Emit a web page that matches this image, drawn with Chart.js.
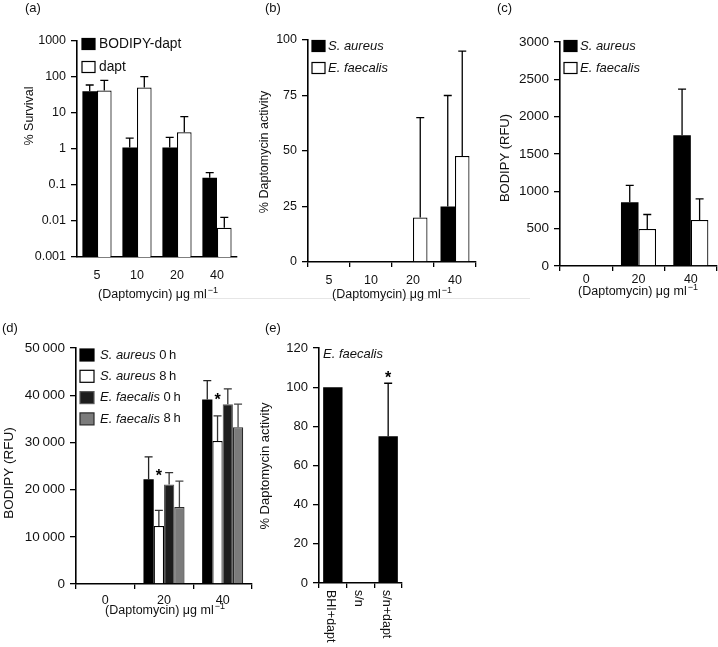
<!DOCTYPE html>
<html>
<head>
<meta charset="utf-8">
<script src="https://cdn.jsdelivr.net/npm/chart.js@4"></script>
<style>
  body { margin: 0; background: #fff; }
  #wrap { position: relative; width: 718px; height: 647px; overflow: hidden; }
  #wrap canvas { position: absolute; left: 0; top: 0; }
  .scan { position: absolute; left: 190px; top: 298px; width: 340px; height: 1px; background: #e6e6e6; }
</style>
</head>
<body>
<div id="wrap">
  <div class="scan"></div>
  <canvas id="chartA" width="718" height="647"></canvas>
  <canvas id="chartB" width="718" height="647"></canvas>
  <canvas id="chartC" width="718" height="647"></canvas>
  <canvas id="chartD" width="718" height="647"></canvas>
  <canvas id="chartE" width="718" height="647"></canvas>
</div>
<script>
const FONT = '"Liberation Sans", Arial, Helvetica, sans-serif';
const W = 718, H = 647;

// (a) % survival, log axis
const dosesA = ['5', '10', '20', '40'];
const survBodipy = [40, 1.1, 1.1, 0.16];
const survBodipyErr = [60, 2.0, 2.1, 0.22];
const survDapt = [42, 51, 2.9, 0.0065];
const survDaptErr = [81, 102, 7.9, 0.0126];
const ticksA = [0.001, 0.01, 0.1, 1, 10, 100, 1000];

// (b) % daptomycin activity
const dosesB = ['5', '10', '20', '40'];
const actAureus = [0, 0, 0, 25];
const actAureusErr = [null, null, null, 75];
const actFaecalis = [0, 0, 20, 47.7];
const actFaecalisErr = [null, null, 65, 95];

// (c) BODIPY RFU
const dosesC = ['0', '20', '40'];
const rfuAureus = [0, 855, 1750];
const rfuAureusErr = [null, 1080, 2370];
const rfuFaecalis = [0, 495, 615];
const rfuFaecalisErr = [null, 690, 900];

// (d) BODIPY RFU, 0 h vs 8 h
const dosesD = ['0', '20', '40'];
const rfuAureus0h = [0, 22200, 39100];
const rfuAureus0hErr = [null, 26950, 43100];
const rfuAureus8h = [0, 12300, 30300];
const rfuAureus8hErr = [null, 15600, 35600];
const rfuFaecalis0h = [0, 21100, 38100];
const rfuFaecalis0hErr = [null, 23600, 41350];
const rfuFaecalis8h = [0, 16300, 33200];
const rfuFaecalis8hErr = [null, 21800, 38100];
const starsD = [{ dataset: 1, index: 1, value: 23700 }, { dataset: 1, index: 2, value: 39800 }];

// (e) supernatant activity
const mediaE = ['BHI+dapt', 's/n', 's/n+dapt'];
const actE = [100, 0, 75];
const actEErr = [null, null, 102];
const starsE = [{ dataset: 0, index: 2, value: 106.5 }];

function drawXTitle(ctx, cx, cy) {
  const main = '(Daptomycin) \u03bcg ml';
  const sup = '\u22121';
  ctx.font = `12.5px ${FONT}`;
  const w1 = ctx.measureText(main).width;
  ctx.font = `9px ${FONT}`;
  const w2 = ctx.measureText(sup).width;
  const x0 = cx - (w1 + w2 + 1) / 2;
  ctx.textAlign = 'left';
  ctx.textBaseline = 'middle';
  ctx.font = `12.5px ${FONT}`;
  ctx.fillText(main, x0, cy);
  ctx.font = `9px ${FONT}`;
  ctx.fillText(sup, x0 + w1 + 1, cy - 4);
}

function drawLabelParts(ctx, label, x, y, size, allItalic) {
  // species names are in italics
  const m = label.match(/^([A-Z]\. [a-z]+)(.*)$/);
  const parts = m ? [[m[1], true], [m[2], false]] : [[label, false]];
  parts.forEach(([txt, it]) => {
    ctx.font = `${it || allItalic ? 'italic ' : ''}${size}px ${FONT}`;
    ctx.fillText(txt, x, y);
    x += ctx.measureText(txt).width;
  });
}

const extras = {
  id: 'extras',
  afterDatasetsDraw(chart, args, o) {
    const ctx = chart.ctx;
    const y = chart.scales.y;
    ctx.save();
    chart.data.datasets.forEach((ds, di) => {
      if (!ds.err) return;
      const meta = chart.getDatasetMeta(di);
      ds.err.forEach((e, i) => {
        if (e == null) return;
        const bar = meta.data[i];
        const ye = y.getPixelForValue(e);
        ctx.strokeStyle = ds.errColor || '#000';
        ctx.lineWidth = 1.3;
        ctx.beginPath();
        ctx.moveTo(bar.x, bar.y);
        ctx.lineTo(bar.x, ye);
        ctx.moveTo(bar.x - 4, ye);
        ctx.lineTo(bar.x + 4, ye);
        ctx.stroke();
      });
    });
    (o.stars || []).forEach(s => {
      const bar = chart.getDatasetMeta(s.dataset).data[s.index];
      ctx.fillStyle = '#000';
      ctx.font = `bold 16px ${FONT}`;
      ctx.textAlign = 'center';
      ctx.textBaseline = 'middle';
      ctx.fillText('*', bar.x, y.getPixelForValue(s.value) + 4);
    });
    ctx.restore();
  },
  afterDraw(chart, args, o) {
    const ctx = chart.ctx;
    ctx.save();
    ctx.fillStyle = '#111';
    // panel letter
    ctx.font = `13px ${FONT}`;
    ctx.textAlign = 'left';
    ctx.textBaseline = 'middle';
    ctx.fillText(o.panel.text, o.panel.x, o.panel.y);
    // y title
    ctx.save();
    ctx.translate(o.yTitle.x, o.yTitle.y);
    ctx.rotate(-Math.PI / 2);
    ctx.textAlign = 'center';
    ctx.font = `${o.yTitle.size || 12.5}px ${FONT}`;
    ctx.fillText(o.yTitle.text, 0, 0);
    ctx.restore();
    // x title
    if (o.xTitle) drawXTitle(ctx, o.xTitle.x, o.xTitle.y);
    // rotated category labels (e)
    if (o.rotLabels) {
      const xs = chart.scales.x;
      ctx.font = `12.5px ${FONT}`;
      chart.data.labels.forEach((lab, i) => {
        ctx.save();
        ctx.translate(xs.getPixelForValue(i) - 2, o.rotLabels.y);
        ctx.rotate(Math.PI / 2);
        ctx.textAlign = 'left';
        ctx.textBaseline = 'middle';
        ctx.fillText(lab, 0, 0);
        ctx.restore();
      });
    }
    // legend
    if (o.legend) {
      const lg = o.legend;
      chart.data.datasets.forEach((ds, i) => {
        const cy = lg.y + i * lg.rowH;
        ctx.fillStyle = ds.backgroundColor;
        ctx.fillRect(lg.x, cy - lg.boxH / 2, lg.boxW, lg.boxH);
        ctx.strokeStyle = ds.legendBorder || '#000';
        ctx.lineWidth = 1.2;
        ctx.strokeRect(lg.x, cy - lg.boxH / 2, lg.boxW, lg.boxH);
        ctx.fillStyle = '#111';
        ctx.textAlign = 'left';
        ctx.textBaseline = 'middle';
        drawLabelParts(ctx, ds.label, lg.x + lg.boxW + lg.gap, cy, lg.size, false);
      });
    }
    (o.notes || []).forEach(n => {
      ctx.fillStyle = '#111';
      ctx.textAlign = 'left';
      ctx.textBaseline = 'middle';
      drawLabelParts(ctx, n.text, n.x, n.y, n.size, true);
    });
    ctx.restore();
  }
};

function thousands(v) {
  return v >= 10000 ? Math.floor(v / 1000) + '\u2009' + '000' : String(v);
}

function buildOptions(p) {
  return {
    responsive: false,
    animation: false,
    devicePixelRatio: 1,
    layout: {
      padding: { left: p.area.left - 60, top: p.area.top, right: W - p.area.right, bottom: H - p.area.bottom - 30 }
    },
    datasets: { bar: { barPercentage: 1, categoryPercentage: p.catPct } },
    plugins: { legend: { display: false }, tooltip: { enabled: false }, extras: p.extras },
    scales: {
      x: {
        grid: { display: true, drawOnChartArea: false, drawTicks: p.xTicks, tickLength: 5, color: '#000', lineWidth: 1.3, offset: true },
        border: { color: '#000', width: 1.6 },
        ticks: { display: !p.extras.rotLabels, color: '#111', font: { family: FONT, size: 12.5 }, padding: p.xPad, maxRotation: 0, autoSkip: false },
        afterFit: s => { s.height = 30; }
      },
      y: {
        type: p.log ? 'logarithmic' : 'linear',
        min: p.min,
        max: p.max,
        grid: { drawOnChartArea: false, tickLength: 6, color: '#000', lineWidth: 1.3 },
        border: { color: '#000', width: 1.6 },
        ticks: { stepSize: p.step, color: '#111', font: { family: FONT, size: p.tickSize || 12.5 }, padding: 5, callback: p.fmt || (v => String(v)) },
        afterBuildTicks: p.tickList ? (s => { s.ticks = p.tickList.map(v => ({ value: v })); }) : undefined,
        afterFit: s => { s.width = 60; }
      }
    }
  };
}

const black = { backgroundColor: '#000', borderColor: '#000', borderWidth: 0 };
const white = { backgroundColor: '#fff', borderColor: '#000', borderWidth: 1.2 };

new Chart(document.getElementById('chartA'), {
  type: 'bar',
  data: {
    labels: dosesA,
    datasets: [
      { label: 'BODIPY-dapt', data: survBodipy, err: survBodipyErr, ...black },
      { label: 'dapt', data: survDapt, err: survDaptErr, ...white }
    ]
  },
  options: buildOptions({
    area: { left: 77, top: 41, right: 237, bottom: 257 },
    log: true, min: 0.001, max: 1000, tickList: ticksA,
    catPct: 0.73, xTicks: false, xPad: 11,
    extras: {
      panel: { text: '(a)', x: 25, y: 8 },
      yTitle: { text: '% Survival', x: 30, y: 116 },
      xTitle: { x: 158, y: 295 },
      legend: { x: 82, y: 44, rowH: 23, boxW: 13, boxH: 11, gap: 4, size: 13.8 }
    }
  }),
  plugins: [extras]
});

new Chart(document.getElementById('chartB'), {
  type: 'bar',
  data: {
    labels: dosesB,
    datasets: [
      { label: 'S. aureus', data: actAureus, err: actAureusErr, ...black },
      { label: 'E. faecalis', data: actFaecalis, err: actFaecalisErr, ...white }
    ]
  },
  options: buildOptions({
    area: { left: 308, top: 40, right: 476, bottom: 262 },
    min: 0, max: 100, step: 25,
    catPct: 0.69, xTicks: true, xPad: 6,
    extras: {
      panel: { text: '(b)', x: 265, y: 8 },
      yTitle: { text: '% Daptomycin activity', x: 265, y: 152 },
      xTitle: { x: 392, y: 295 },
      legend: { x: 312, y: 46, rowH: 22, boxW: 13, boxH: 11, gap: 3, size: 13 }
    }
  }),
  plugins: [extras]
});

new Chart(document.getElementById('chartC'), {
  type: 'bar',
  data: {
    labels: dosesC,
    datasets: [
      { label: 'S. aureus', data: rfuAureus, err: rfuAureusErr, ...black },
      { label: 'E. faecalis', data: rfuFaecalis, err: rfuFaecalisErr, ...white }
    ]
  },
  options: buildOptions({
    area: { left: 560, top: 42, right: 717, bottom: 266 },
    min: 0, max: 3000, step: 500, tickSize: 13.5,
    catPct: 0.67, xTicks: true, xPad: 1,
    extras: {
      panel: { text: '(c)', x: 497, y: 8 },
      yTitle: { text: 'BODIPY (RFU)', x: 505, y: 158, size: 13 },
      xTitle: { x: 638, y: 292 },
      legend: { x: 564, y: 46, rowH: 22, boxW: 13, boxH: 11, gap: 3, size: 13 }
    }
  }),
  plugins: [extras]
});

new Chart(document.getElementById('chartD'), {
  type: 'bar',
  data: {
    labels: dosesD,
    datasets: [
      { label: 'S. aureus 0\u2009h', data: rfuAureus0h, err: rfuAureus0hErr, errColor: '#222', ...black },
      { label: 'S. aureus 8\u2009h', data: rfuAureus8h, err: rfuAureus8hErr, errColor: '#333', ...white },
      { label: 'E. faecalis 0\u2009h', data: rfuFaecalis0h, err: rfuFaecalis0hErr, errColor: '#333', backgroundColor: '#1d1d1d', borderColor: '#5a5a5a', legendBorder: '#5a5a5a', borderWidth: 1.2 },
      { label: 'E. faecalis 8\u2009h', data: rfuFaecalis8h, err: rfuFaecalis8hErr, errColor: '#444', backgroundColor: '#7b7b7b', borderColor: '#2a2a2a', legendBorder: '#2a2a2a', borderWidth: 1.2 }
    ]
  },
  options: buildOptions({
    area: { left: 76, top: 348, right: 252, bottom: 584 },
    min: 0, max: 50000, step: 10000, fmt: thousands, tickSize: 13.5,
    catPct: 0.70, xTicks: true, xPad: 4,
    extras: {
      panel: { text: '(d)', x: 2, y: 328 },
      yTitle: { text: 'BODIPY (RFU)', x: 9, y: 473, size: 13.5 },
      xTitle: { x: 165, y: 611 },
      legend: { x: 80, y: 355, rowH: 21.3, boxW: 14, boxH: 12, gap: 6, size: 13 },
      stars: starsD
    }
  }),
  plugins: [extras]
});

new Chart(document.getElementById('chartE'), {
  type: 'bar',
  data: {
    labels: mediaE,
    datasets: [
      { label: 'E. faecalis', data: actE, err: actEErr, ...black }
    ]
  },
  options: buildOptions({
    area: { left: 319, top: 348, right: 402, bottom: 583 },
    min: 0, max: 120, step: 20, tickSize: 13,
    catPct: 0.70, xTicks: true, xPad: 4,
    extras: {
      panel: { text: '(e)', x: 265, y: 328 },
      yTitle: { text: '% Daptomycin activity', x: 265, y: 466, size: 13 },
      rotLabels: { y: 590 },
      notes: [{ text: 'E. faecalis', x: 323, y: 354, size: 13 }],
      stars: starsE
    }
  }),
  plugins: [extras]
});
</script>
</body>
</html>
